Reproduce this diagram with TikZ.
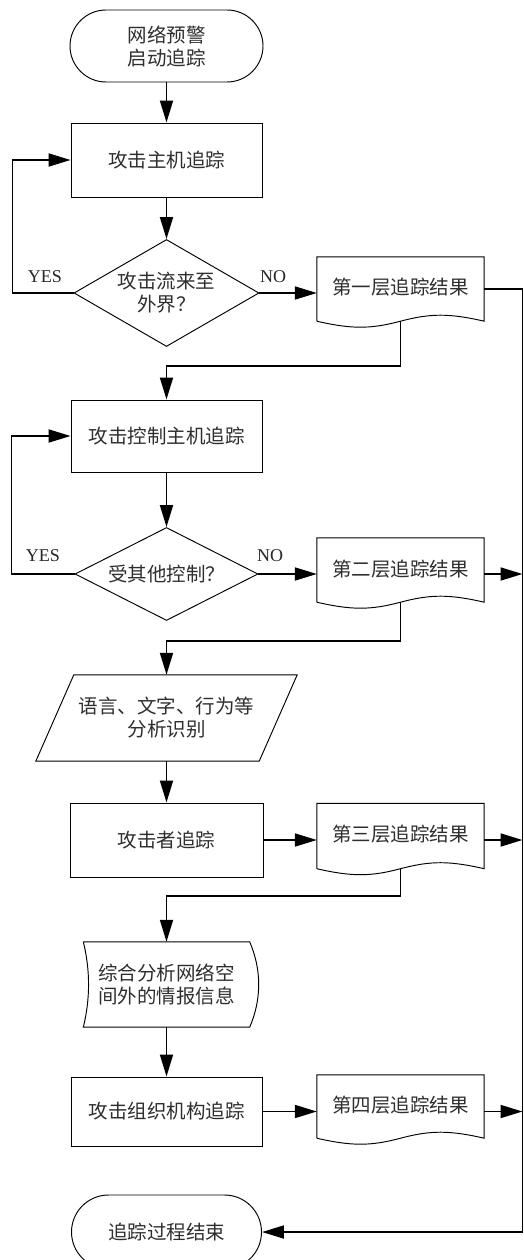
\documentclass[tikz,border=0pt]{standalone}
\usepackage{fontspec}
\setmainfont{Liberation Serif}
\newfontfamily\cjk{Noto Sans CJK SC}
\usetikzlibrary{arrows.meta,shapes.misc,shapes.geometric,calc}
\newcommand\drawdoc[1]{%
  \draw[shp] (#1.south west) -- (#1.north west) -- (#1.north east) -- (#1.south east)
    .. controls ($(#1.south east)+(-35,-8)$) and ($(#1.south)+(30,-8)$) .. (#1.south)
    .. controls ($(#1.south)+(-30,8)$) and ($(#1.south west)+(35,8)$) .. (#1.south west);}
\begin{document}
\begin{tikzpicture}[x=1pt,y=-1pt,
  base/.style={font=\cjk\fontsize{19.5}{23}\selectfont, text=black!82, align=center, inner sep=0pt},
  proc/.style={base, draw, rectangle, line width=0.95pt},
  term/.style={base, draw, rounded rectangle, line width=0.95pt},
  dec/.style={base, draw, diamond, shape aspect=1.73, line width=0.95pt},
  docbox/.style={base, minimum width=167pt, minimum height=64pt},
  shp/.style={line width=0.95pt},
  conn/.style={line width=1.8pt},
  arr/.style={line width=1.8pt, -{Triangle[length=22pt,width=13pt]}},
  lbl/.style={font=\fontsize{18}{20}\selectfont, text=black!85, inner sep=0pt}]
\useasboundingbox (0,0) rectangle (524,1260);
\clip (0,0) rectangle (524,1260);
\fill[white] (0,0) rectangle (524,1260);

% nodes
\node[term, minimum width=193pt, minimum height=72pt] (start) at (166.5,46) {网络预警\\启动追踪};
\node[proc, minimum width=191pt, minimum height=74pt] (box1) at (166.5,160) {攻击主机追踪};
\node[dec, minimum width=185pt, minimum height=107pt] (dia1) at (166.5,293) {攻击流来至\\外界？};
\node[docbox] (doc1) at (400.5,289) {\raisebox{6pt}{第一层追踪结果}};
\drawdoc{doc1}

\node[proc, minimum width=191pt, minimum height=72pt] (box2) at (166.5,436) {攻击控制主机追踪};
\node[dec, minimum width=183pt, minimum height=93pt] (dia2) at (166.5,574) {受其他控制？};
\node[docbox] (doc2) at (400.5,570) {\raisebox{4pt}{第二层追踪结果}};
\drawdoc{doc2}

\node[base, minimum width=223pt, minimum height=86pt] (para) at (166.5,718) {语言、文字、行为等\\分析识别};
\draw[shp] ($(para.north west)+(19,0)$) -- ($(para.north east)+(19,0)$)
  -- ($(para.south east)+(-19,0)$) -- ($(para.south west)+(-19,0)$) -- cycle;

\node[proc, minimum width=193pt, minimum height=74pt] (box3) at (166.5,840) {攻击者追踪};
\node[docbox, minimum height=65pt] (doc3) at (400.5,836) {\raisebox{5pt}{第三层追踪结果}};
\drawdoc{doc3}

\node[base, minimum width=166pt, minimum height=85pt] (disp) at (166.5,984.5) {综合分析网络空\\间外的情报信息};
\draw[shp] (disp.north west) -- (disp.north east)
  .. controls ($(disp.north east)+(12,28)$) and ($(disp.south east)+(12,-28)$) .. (disp.south east)
  -- (disp.south west)
  .. controls ($(disp.south west)+(7,-28)$) and ($(disp.north west)+(7,28)$) .. (disp.north west);

\node[proc, minimum width=191pt, minimum height=69pt] (box4) at (166.5,1111.5) {攻击组织机构追踪};
\node[docbox, minimum height=63pt] (doc4) at (400.5,1106.5) {\raisebox{4pt}{第四层追踪结果}};
\drawdoc{doc4}

\node[term, minimum width=190pt, minimum height=74pt] (end) at (166.5,1232) {追踪过程结束};

\coordinate (tr) at (522.5,0);

% labels
\node[lbl] (yes1) at (45,277) {YES};
\node[lbl] (no1) at (273,277) {NO};
\node[lbl] (yes2) at (43,556) {YES};
\node[lbl] (no2) at (270,556) {NO};

% connectors
\draw[arr] (start.south) -- (box1.north);
\draw[arr] (box1.south) -- (dia1.north);
\draw[arr] (dia1.west) -- ++(-61,0) |- (box1.west);
\draw[arr] (dia1.east) -- (dia1.east -| doc1.west);
\draw[arr] (doc1.south) -- ++(0,45) -| (box2.north);

\draw[arr] (box2.south) -- (dia2.north);
\draw[arr] (dia2.west) -- ++(-63,0) |- (box2.west);
\draw[arr] (dia2.east) -- (dia2.east -| doc2.west);
\draw[arr] (doc2.east |- dia2.east) -- (dia2.east -| tr);
\draw[arr] (doc2.south) -- ++(0,39) -| (para.north);

\draw[arr] (para.south) -- (box3.north);
\draw[arr] (box3.east) -- (box3.east -| doc3.west);
\draw[arr] (doc3.east |- box3.east) -- (box3.east -| tr);
\draw[arr] (doc3.south) -- ++(0,27) -| (disp.north);

\draw[arr] (disp.south) -- (box4.north);
\draw[arr] (box4.east) -- (box4.east -| doc4.west);
\draw[arr] (doc4.east |- box4.east) -- (box4.east -| tr);

\draw[arr] (doc1.east) -| (end.east -| tr) -- (end.east);
\end{tikzpicture}
\end{document}
